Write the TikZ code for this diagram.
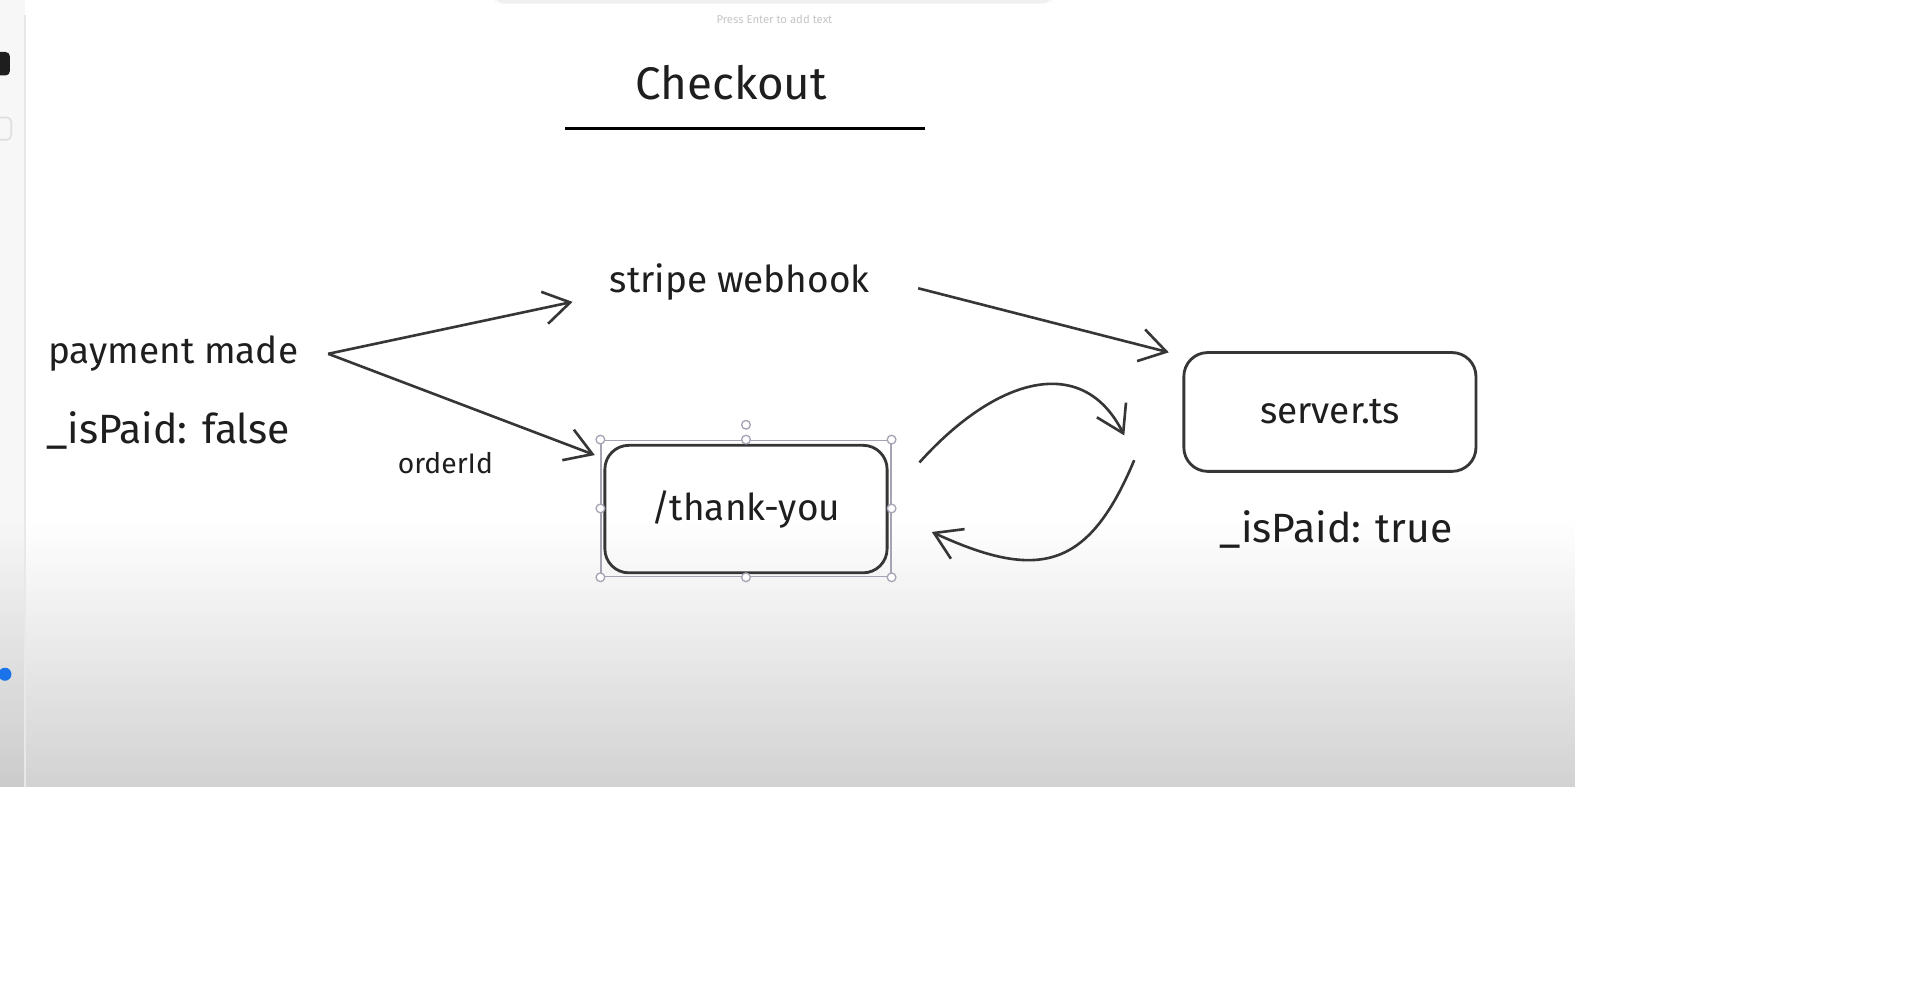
\documentclass[tikz,border=0pt]{standalone}
\usepackage{fontspec}
\setmainfont{Fira Sans}
\usetikzlibrary{arrows.meta}
\usetikzlibrary{positioning}
\definecolor{ink}{HTML}{1E1E1E}
\definecolor{stroke}{HTML}{363636}
\definecolor{handle}{HTML}{A4A4B4}
\definecolor{canvasgray}{HTML}{D2D2D2}
\definecolor{dotblue}{HTML}{1A73E8}

\begin{document}
\begin{tikzpicture}[
  x=0.01cm, y=-0.01cm,
  > = {Straight Barb[length=6pt,width=7.5pt]},
  lbl/.style = {text=ink, inner sep=0pt, font=\fontsize{8.5}{10}\selectfont},
  flag/.style = {lbl, font=\fontsize{9.4}{11}\selectfont},
  box/.style = {draw=stroke, line width=0.65pt, rounded corners=5.5pt, text=ink, font=\fontsize{8.5}{10}\selectfont},
  arr/.style = {->, draw=stroke, line width=0.6pt},
  grip/.style = {draw=handle, fill=white, circle, inner sep=0pt, minimum size=2pt, line width=0.3pt}
  ]
  \useasboundingbox (0,0) rectangle (1552,803);
  \fill[white] (0,0) rectangle (1552,803);

  % canvas
  \shade[top color=white, bottom color=canvasgray] (0,420) rectangle (1273,636);
  \fill[black, opacity=0.03] (0,0) rectangle (20,636);
  \draw[gray!18, line width=0.5pt] (20,12) -- (20,636);
  \fill[gray!12, rounded corners=2pt] (400,-4) rectangle (850,3);
  \node[text=gray!45, inner sep=0pt, font=\fontsize{2.6}{3}\selectfont] (hint) at (626,16) {Press Enter to add text};
  \fill[ink, rounded corners=1pt] (-5,42) rectangle (8,61);
  \draw[gray!25, line width=0.4pt, rounded corners=1pt] (-4,95) rectangle (9,113);
  \fill[dotblue] (4,545) circle (1.5pt);

  % title
  \node[lbl, font=\fontsize{10.5}{12}\selectfont] (title) at (591,67) {Checkout};
  \draw[stroke, line width=0.7pt] (457,104) -- (748,104);

  \node[lbl, minimum width=1.97cm] (pay) at (140,286) {payment made};
  \node[flag] (unpaid) at (136,348) {\_isPaid: false};
  \node[lbl, minimum width=2.03cm] (hook) at (598,228) {stripe webhook};
  \node[lbl, font=\fontsize{6.5}{7}\selectfont] (order) at (360,374) {orderId};

  \node[draw=handle, line width=0.35pt, minimum width=2.34cm, minimum height=1.10cm, inner sep=0pt] (sel) at (603,411) {};
  \node[box, minimum width=2.28cm, minimum height=1.03cm] (thank) at (603,411.5) {/thank-you};
  \foreach \a in {north west,north,north east,west,east,south west,south,south east}
    \node[grip] at (sel.\a) {};
  \node[grip] (rot) at ([shift={(0,-12)}]sel.north) {};

  \node[box, minimum width=2.36cm, minimum height=0.96cm] (server) at (1075,333) {server.ts};
  \node[flag] (paid) at (1080,428) {\_isPaid: true};

  \coordinate (fork) at ([shift={(23.5,0)}]pay.east);
  \draw[arr] (fork) -- ([shift={(-29.5,16)}]hook.west);
  \draw[arr] (fork) -- ([shift={(-7,9)}]thank.north west);
  \draw[arr] ([shift={(38.5,5)}]hook.east) -- ([shift={(-11,1)}]server.north west);
  \draw[arr] ([shift={(25,15)}]thank.north east) .. controls (805,305) and (875,285) .. ([shift={(-47,19)}]server.west);
  \draw[arr] ([shift={(-39,39)}]server.west) .. controls (880,460) and (840,470) .. ([shift={(35,18.5)}]thank.east);

\end{tikzpicture}
\end{document}
